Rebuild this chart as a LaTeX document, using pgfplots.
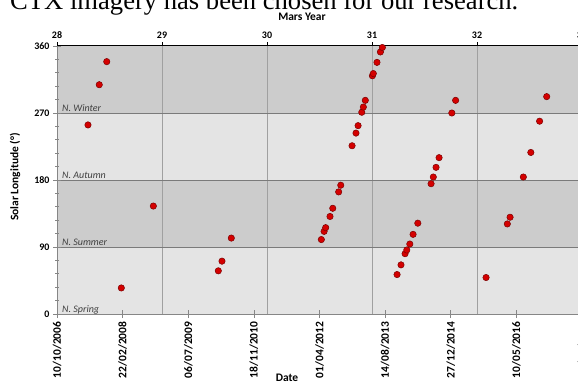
\documentclass[border=0pt]{standalone}
\usepackage{pgfplots}
\pgfplotsset{compat=1.18}
\usepackage{fontspec}
\setmainfont{Carlito}
\newfontfamily\capserif{Liberation Serif}
\definecolor{bandD}{HTML}{CCCCCC}
\definecolor{bandL}{HTML}{E4E4E4}
\definecolor{hline}{HTML}{7A7A7A}
\definecolor{vgrid}{HTML}{A0A0A0}
\definecolor{axgray}{HTML}{868686}
\definecolor{dotfill}{HTML}{D40000}
\definecolor{dotdraw}{HTML}{7A0000}
\begin{document}
\begin{tikzpicture}
% Mars year axis (background, bands, year grid)
\begin{axis}[
  at={(57pt,69pt)}, anchor=south west,
  scale only axis, width=525pt, height=268pt,
  xmin=28, xmax=33, ymin=0, ymax=360,
  axis x line=top, axis y line=left,
  x axis line style={-, black, line width=1.1pt},
  y axis line style={draw=none},
  xtick={28,29,30,31,32,33}, ytick=\empty,
  tick align=outside, major tick length=4pt,
  tick style={black, line width=0.7pt},
  xticklabel style={font=\bfseries\fontsize{10}{12}\selectfont},
  /pgf/number format/assume math mode=true,
  clip=false,
]
\fill[bandL] (axis cs:28,0) rectangle (axis cs:33,90);
\fill[bandD] (axis cs:28,90) rectangle (axis cs:33,180);
\fill[bandL] (axis cs:28,180) rectangle (axis cs:33,270);
\fill[bandD] (axis cs:28,270) rectangle (axis cs:33,360);
\draw[vgrid, line width=0.7pt] (axis cs:29,0) -- (axis cs:29,360);
\draw[vgrid, line width=0.7pt] (axis cs:30,0) -- (axis cs:30,360);
\draw[vgrid, line width=0.7pt] (axis cs:31,0) -- (axis cs:31,360);
\draw[vgrid, line width=0.7pt] (axis cs:32,0) -- (axis cs:32,360);
\draw[hline, line width=0.9pt] (axis cs:28,90) -- (axis cs:33,90);
\draw[hline, line width=0.9pt] (axis cs:28,180) -- (axis cs:33,180);
\draw[hline, line width=0.9pt] (axis cs:28,270) -- (axis cs:33,270);
\end{axis}
% Date axis with observations
\begin{axis}[
  at={(57pt,69pt)}, anchor=south west,
  scale only axis, width=525pt, height=268pt,
  xmin=0, xmax=4000, ymin=0, ymax=360,
  axis x line=bottom, axis y line=left,
  axis line style={-, axgray, line width=0.9pt},
  xtick={0,500,1000,1500,2000,2500,3000,3500,4000},
  xticklabels={10/10/2006,22/02/2008,06/07/2009,18/11/2010,01/04/2012,14/08/2013,27/12/2014,10/05/2016,22/09/2017},
  xticklabel style={rotate=90, anchor=east, font=\bfseries\fontsize{11.5}{13}\selectfont},
  ytick={0,90,180,270,360}, minor y tick num=4,
  yticklabel style={font=\bfseries\fontsize{10}{12}\selectfont},
  /pgf/number format/assume math mode=true,
  tick align=center, major tick length=8pt, minor tick length=4pt,
  tick style={axgray, line width=0.7pt},
  clip=false,
]
\addplot[only marks, mark=*, mark size=3.2pt, mark options={fill=dotfill, draw=dotdraw, line width=0.5pt}] coordinates {
(236,254) (322,308) (379,339) (490,35) (734,145)
(1229,58) (1257,71) (1328,102)
(2014,100) (2035,111) (2047,116) (2080,131) (2101,142) (2146,164) (2162,173)
(2248,226) (2278,243) (2294,253) (2322,271) (2334,278) (2349,287)
(2403,320) (2410,323) (2438,338) (2464,352) (2479,358)
(2591,53) (2621,66) (2652,81) (2665,86) (2688,94) (2713,107) (2749,122)
(2850,175) (2867,184) (2888,197) (2911,210) (3008,270) (3037,287)
(3269,49) (3431,121) (3452,130) (3553,184) (3610,217) (3677,259) (3731,292)
};
\node[anchor=base west, inner sep=0, font=\itshape\fontsize{10}{12}\selectfont, text=black!75] at (axis cs:38,272) {N. Winter};
\node[anchor=base west, inner sep=0, font=\itshape\fontsize{10}{12}\selectfont, text=black!75] at (axis cs:38,182) {N. Autumn};
\node[anchor=base west, inner sep=0, font=\itshape\fontsize{10}{12}\selectfont, text=black!75] at (axis cs:38,92) {N. Summer};
\node[anchor=base west, inner sep=0, font=\itshape\fontsize{10}{12}\selectfont, text=black!75] at (axis cs:38,2) {N. Spring};
\end{axis}
\node[anchor=base west, inner sep=0, font=\capserif\fontsize{26.6}{30}\selectfont] at (10pt,373.5pt) {CTX imagery has been chosen for our research.};
\node[font=\bfseries\fontsize{11.5}{13}\selectfont, inner sep=0] at (302pt,366pt) {Mars Year};
\node[font=\bfseries\fontsize{11.5}{13}\selectfont, inner sep=0, rotate=90] at (15pt,206pt) {Solar Longitude (°)};
\node[font=\bfseries\fontsize{11.5}{13}\selectfont, inner sep=0] at (287pt,5pt) {Date};
\pgfresetboundingbox
\path[use as bounding box] (0pt,0pt) rectangle (578pt,383pt);
\end{tikzpicture}
\end{document}
